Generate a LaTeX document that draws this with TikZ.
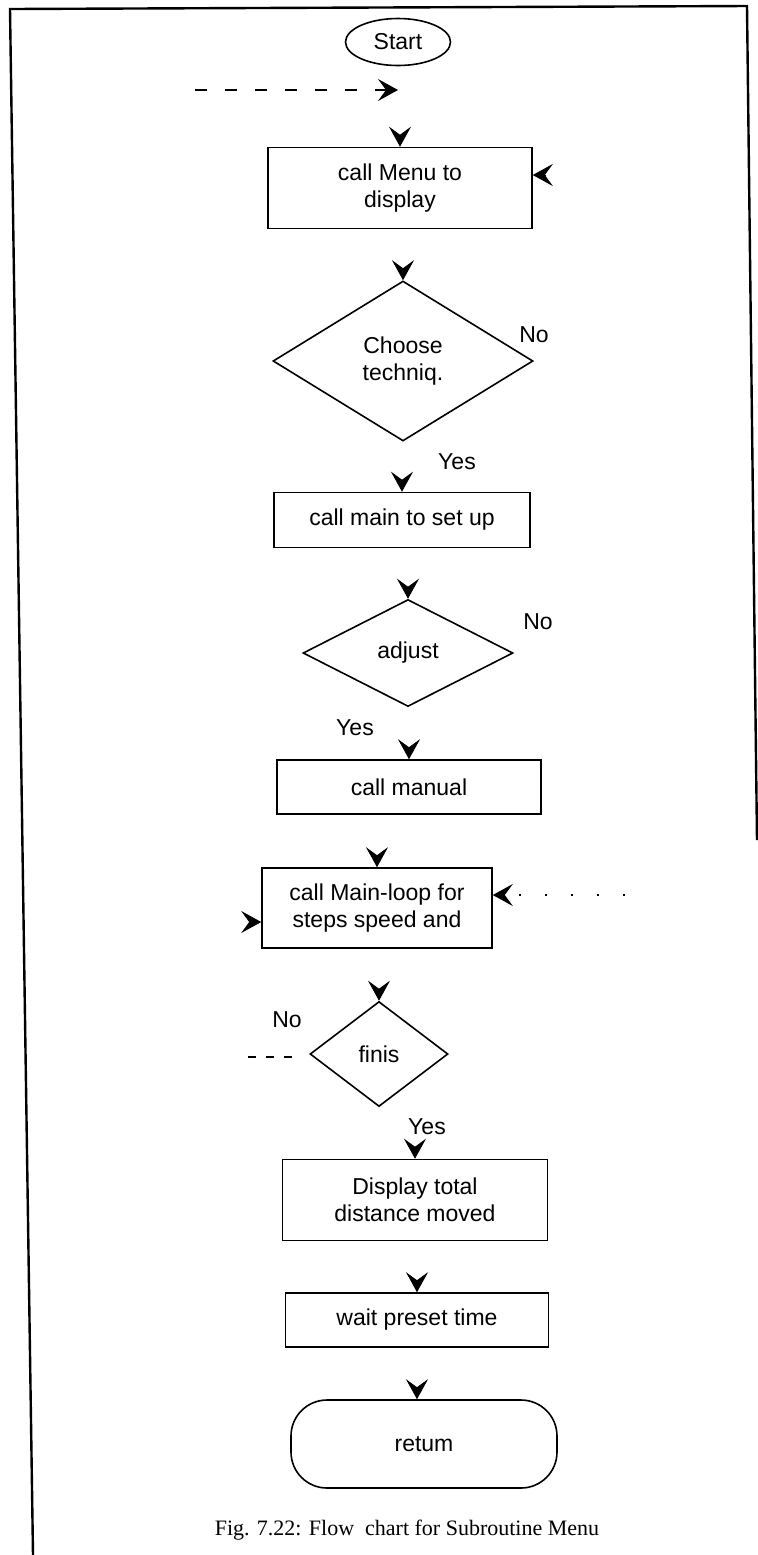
\documentclass[tikz,border=0pt]{standalone}
\usepackage{fontspec}
\setmainfont{Liberation Sans}
\newfontfamily\capfont{Liberation Serif}
\usetikzlibrary{shapes.geometric,arrows.meta}

\begin{document}
\begin{tikzpicture}[x=0.5pt,y=-0.5pt,
  font=\fontsize{11.5}{13.5}\selectfont,
  box/.style={draw,line width=0.8pt,inner sep=0pt,align=center},
  decision/.style={draw,diamond,line width=0.8pt,inner sep=0pt,align=center},
  head/.style={-{Stealth[length=10pt,width=11pt,inset=4pt]}}]

  \useasboundingbox (0,0) rectangle (758,1555);

  % frame
  \draw[line width=1.2pt] (33,1555) -- (10,9) -- (747,6) -- (757,840);

  % chart, top to bottom
  \node[draw,ellipse,line width=0.8pt,inner sep=0pt,
        minimum width=52.5pt,minimum height=23.5pt] (start) at (398,42) {Start};
  \node[box,minimum width=132pt,minimum height=40.5pt] (menu) at (400,188) {call Menu to\\display};
  \node[decision,minimum width=130pt,minimum height=80pt] (choose) at (403,361) {Choose\\techniq.};
  \node[box,minimum width=128pt,minimum height=27.5pt] (setup) at (402,520) {call main to set up};
  \node[decision,minimum width=105pt,minimum height=53.5pt] (adjust) at (408,653) {adjust};
  \node[box,minimum width=132pt,minimum height=27pt] (manual) at (409,787) {call manual};
  \node[box,minimum width=115pt,minimum height=40pt] (loop) at (377,908) {call Main-loop for\\steps speed and};
  \node[decision,minimum width=69pt,minimum height=52.5pt] (finis) at (379,1054) {finis};
  \node[box,minimum width=132.5pt,minimum height=40.5pt] (total) at (415,1200) {Display total\\distance moved};
  \node[box,minimum width=131.5pt,minimum height=27pt] (wait) at (417,1320) {wait preset time};
  \node[box,rounded corners=18pt,minimum width=133pt,minimum height=44pt] (ret) at (424,1444) {retum};

  % yes / no
  \node (no1) at (534,335) {No};
  \node (yes1) at (457,462) {Yes};
  \node (no2) at (538,622) {No};
  \node (yes2) at (355,728) {Yes};
  \node (no3) at (287,1020) {No};
  \node (yes3) at (427,1127) {Yes};

  % arrow heads on top of each step
  \foreach \n in {menu,choose,setup,adjust,manual,loop,finis,total,wait}
    \draw[head] ([yshift=6pt]\n.north) -- (\n.north);
  \draw[head] ([xshift=-3.5pt,yshift=6pt]ret.north) -- ([xshift=-3.5pt]ret.north);

  % side entries
  \draw[head] ([xshift=6pt,yshift=6.5pt]menu.east) -- ([yshift=6.5pt]menu.east);
  \draw[head] ([xshift=-6pt,yshift=-7pt]loop.west) -- ([yshift=-7pt]loop.west);

  \coordinate (dots) at (625,895);
  \draw[head,line width=0.6pt,dash pattern=on 1pt off 12pt] (dots) -- ([yshift=6.5pt]loop.east);

  \coordinate (noback) at (195,90);
  \coordinate (rejoin) at (398,90);
  \draw[head,line width=0.6pt,dash pattern=on 6pt off 9pt] (noback) -- (rejoin);

  \coordinate (nostart) at (292,1057);
  \coordinate (noend) at (242,1057);
  \draw[line width=0.6pt,dash pattern=on 4pt off 5pt] (nostart) -- (noend);

  % caption
  \node[font=\capfont\fontsize{11}{13}\selectfont] (caption) at (407,1530)
    {Fig. 7.22: Flow\ \ chart for Subroutine Menu};

\end{tikzpicture}
\end{document}
